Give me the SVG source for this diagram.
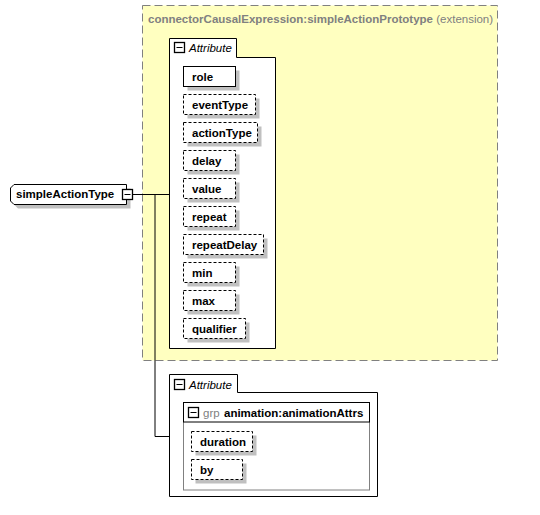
<svg xmlns="http://www.w3.org/2000/svg" width="540" height="515" viewBox="0 0 540 515">
<style>
  text { font-family: "Liberation Sans", Arial, sans-serif; font-size: 11.5px; }
  .b { font-weight: bold; fill: #000; }
  .g { fill: #808080; }
  .it { font-style: italic; fill: #000; }
  .shadow { fill: #c0c0c0; stroke: none; }
  .attr { fill: #fff; stroke: #000; stroke-width: 1; stroke-dasharray: 3,2; }
  .solid { fill: #fff; stroke: #000; stroke-width: 1; }
  .box { fill: #fff; stroke: #000; stroke-width: 1; }
  .icon { fill: #fff; stroke: #000; stroke-width: 1.3; }
  .conn { fill: none; stroke: #000; stroke-width: 1; }
</style>
<rect width="540" height="515" fill="#fff"/>

<g id="extension">
  <rect x="142.5" y="5.5" width="355" height="355" fill="#ffffc0" stroke="#808080" stroke-width="1" stroke-dasharray="8,4"/>
  <text x="148" y="23" class="g" font-weight="bold">connectorCausalExpression:simpleActionPrototype<tspan font-weight="normal"> (extension)</tspan></text>
</g>

<g id="attributes1">
  <path class="box" d="M169.5,38.5 H236.5 V57.5 H275.5 V348.5 H169.5 Z"/>
  <rect class="icon" x="174.5" y="42.5" width="10" height="10"/>
  <line x1="176.5" y1="47.5" x2="182.5" y2="47.5" stroke="#000" stroke-width="1"/>
  <text x="189" y="51.5" class="it">Attribute</text>
</g>

<g id="role">
  <rect class="shadow" x="187.5" y="70.5" width="52" height="20"/>
  <rect class="solid" x="183.5" y="66.5" width="52" height="20"/>
  <text x="192" y="80.5" class="b">role</text>
</g>
<g id="eventType">
  <rect class="shadow" x="187.5" y="98.5" width="72" height="20"/>
  <rect class="attr" x="183.5" y="94.5" width="72" height="20"/>
  <text x="192" y="108.5" class="b">eventType</text>
</g>
<g id="actionType">
  <rect class="shadow" x="187.5" y="126.5" width="74" height="20"/>
  <rect class="attr" x="183.5" y="122.5" width="74" height="20"/>
  <text x="192" y="136.5" class="b">actionType</text>
</g>
<g id="delay">
  <rect class="shadow" x="187.5" y="154.5" width="52" height="20"/>
  <rect class="attr" x="183.5" y="150.5" width="52" height="20"/>
  <text x="192" y="164.5" class="b">delay</text>
</g>
<g id="value">
  <rect class="shadow" x="187.5" y="182.5" width="52" height="20"/>
  <rect class="attr" x="183.5" y="178.5" width="52" height="20"/>
  <text x="192" y="192.5" class="b">value</text>
</g>
<g id="repeat">
  <rect class="shadow" x="187.5" y="210.5" width="52" height="20"/>
  <rect class="attr" x="183.5" y="206.5" width="52" height="20"/>
  <text x="192" y="220.5" class="b">repeat</text>
</g>
<g id="repeatDelay">
  <rect class="shadow" x="187.5" y="238.5" width="80" height="20"/>
  <rect class="attr" x="183.5" y="234.5" width="80" height="20"/>
  <text x="192" y="248.5" class="b">repeatDelay</text>
</g>
<g id="min">
  <rect class="shadow" x="187.5" y="266.5" width="52" height="20"/>
  <rect class="attr" x="183.5" y="262.5" width="52" height="20"/>
  <text x="192" y="276.5" class="b">min</text>
</g>
<g id="max">
  <rect class="shadow" x="187.5" y="294.5" width="52" height="20"/>
  <rect class="attr" x="183.5" y="290.5" width="52" height="20"/>
  <text x="192" y="304.5" class="b">max</text>
</g>
<g id="qualifier">
  <rect class="shadow" x="187.5" y="322.5" width="62" height="20"/>
  <rect class="attr" x="183.5" y="318.5" width="62" height="20"/>
  <text x="192" y="332.5" class="b">qualifier</text>
</g>

<g id="simpleActionType">
  <polygon class="shadow" points="18,188.5 130.5,188.5 130.5,208.5 18,208.5 14.5,205 14.5,192"/>
  <polygon points="14,184.5 126.5,184.5 126.5,204.5 14,204.5 10.5,201 10.5,188" fill="#fff" stroke="#000" stroke-width="1"/>
  <text x="16" y="198" class="b">simpleActionType</text>
  <rect class="icon" x="122.5" y="189.5" width="10" height="10"/>
  <line x1="124.5" y1="194.5" x2="130.5" y2="194.5" stroke="#000" stroke-width="1"/>
</g>

<g id="connectors">
  <path class="conn" d="M132.5,194.5 H169.5"/>
  <path class="conn" d="M155,194.5 V436.5 H169.5"/>
</g>

<g id="attributes2">
  <path class="box" d="M169.5,374.5 H237.5 V392.5 H377.5 V496.5 H169.5 Z"/>
  <rect class="icon" x="174.5" y="379.5" width="10" height="10"/>
  <line x1="176.5" y1="384.5" x2="182.5" y2="384.5" stroke="#000" stroke-width="1"/>
  <text x="189" y="388.5" class="it">Attribute</text>
</g>

<g id="animationAttrs">
  <rect x="183.5" y="402.5" width="186" height="87.5" fill="#fff" stroke="#808080" stroke-width="1"/>
  <rect x="183.5" y="402.5" width="186" height="19.5" fill="none" stroke="#000" stroke-width="1"/>
  <rect class="icon" x="188.5" y="407.5" width="10" height="10"/>
  <line x1="190.5" y1="412.5" x2="196.5" y2="412.5" stroke="#000" stroke-width="1"/>
  <text x="203" y="416.5" class="g">grp</text>
  <text x="224" y="416.5" class="b">animation:animationAttrs</text>
</g>
<g id="duration">
  <rect class="shadow" x="195.5" y="435.5" width="61" height="20"/>
  <rect class="attr" x="191.5" y="431.5" width="61" height="20"/>
  <text x="200" y="445.5" class="b">duration</text>
</g>
<g id="by">
  <rect class="shadow" x="195.5" y="463.5" width="51" height="20"/>
  <rect class="attr" x="191.5" y="459.5" width="51" height="20"/>
  <text x="200" y="473.5" class="b">by</text>
</g>
</svg>
